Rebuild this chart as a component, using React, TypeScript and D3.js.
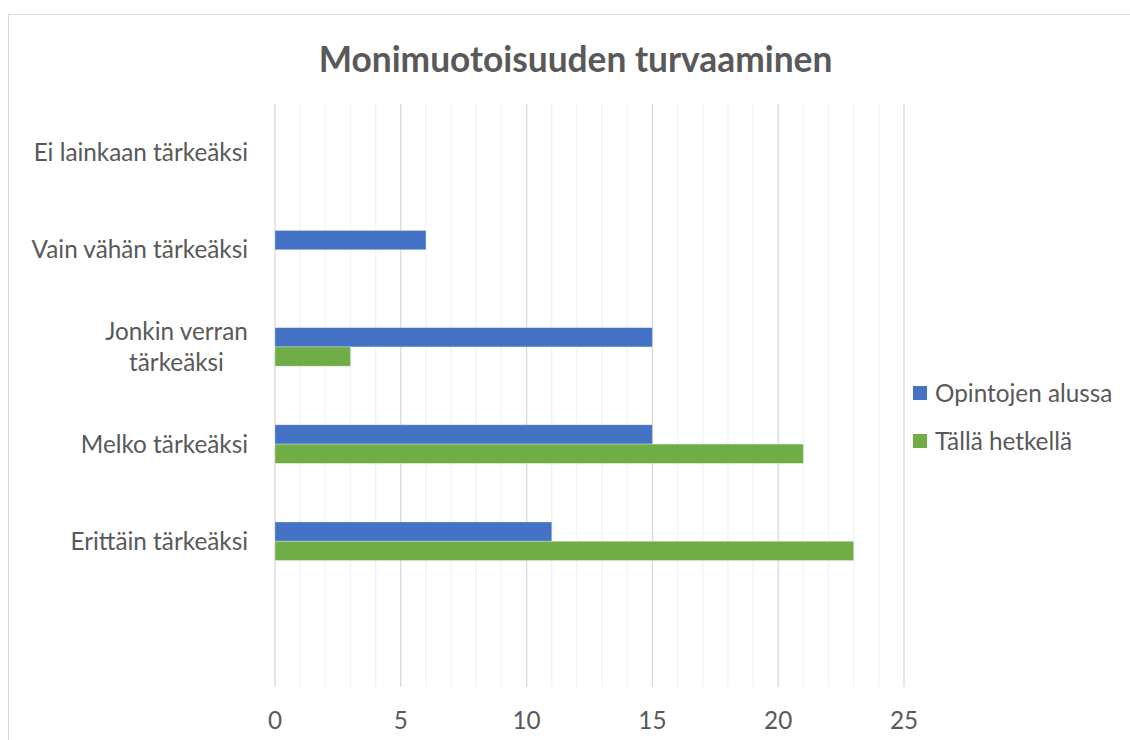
import React from 'react'
import * as d3 from 'd3'

const categories = ['Ei lainkaan tärkeäksi', 'Vain vähän tärkeäksi', 'Jonkin verran tärkeäksi', 'Melko tärkeäksi', 'Erittäin tärkeäksi', '']
const seriesNames = ['Opintojen alussa', 'Tällä hetkellä']
const alussa = [0, 6, 15, 15, 11, 0]
const hetkella = [0, 0, 3, 21, 23, 0]
const xTicks = [0, 5, 10, 15, 20, 25]
const colors = ['#4472C4', '#70AD47']

const W = 1130, H = 740
const FONT = 'Lato, Carlito, Calibri, sans-serif'
const TXT = '#595959'
const FS = 24.3

const Label = ({ x, y, text }) => {
    // Excel wraps the long label onto two centered lines
    if (text === 'Jonkin verran tärkeäksi') {
        return (
            <text x={176.5} y={y} textAnchor="middle" fill={TXT} style={{ fontSize: FS + 'px' }}>
                <tspan x={176.5} dy={-15.5 + 8.5}>Jonkin verran</tspan>
                <tspan x={176.5} dy={31}>tärkeäksi</tspan>
            </text>
        )
    }
    return <text x={x} y={y} dy={8.5} textAnchor="end" fill={TXT} style={{ fontSize: FS + 'px' }}>{text}</text>
}

export default function App() {
    const x = d3.scaleLinear().domain([0, 25]).range([275, 904])
    const y = d3.scaleBand().domain(categories).range([104, 687]).padding(0)
    const bw = y.bandwidth()
    const barH = bw / (2 + 3.04)
    const off = (bw - 2 * barH) / 2
    const minor = d3.range(0, 26).filter(d => d % 5 !== 0)
    const series = [alussa, hetkella]

    return (
        <svg width={W} height={H} style={{ position: 'absolute', left: 0, top: 0, background: '#fff' }} fontFamily={FONT}>
            <rect x={8.5} y={14.5} width={W + 10} height={H + 10} fill="#fff" stroke="#D9D9D9" />
            <text x={575.5} y={72} textAnchor="middle" fill={TXT} style={{ fontSize: '35.3px', fontWeight: 'bold' }}>
                Monimuotoisuuden turvaaminen
            </text>
            {minor.map(d => (
                <line key={'m' + d} x1={x(d)} x2={x(d)} y1={104} y2={687} stroke="#F2F2F2" strokeWidth={1.3} />
            ))}
            {xTicks.map(d => (
                <line key={'g' + d} x1={x(d)} x2={x(d)} y1={104} y2={687} stroke="#D9D9D9" strokeWidth={1.3} />
            ))}
            {categories.map((c, i) => (
                <g key={c + i}>
                    {series.map((s, j) => s[i] > 0 && (
                        <rect key={j} x={x(0)} y={(y(c) || 0) + off + j * barH} width={x(s[i]) - x(0)} height={barH}
                            fill={colors[j]} stroke="#fff" strokeOpacity={0.4} strokeWidth={0.75} />
                    ))}
                    {c && <Label x={248} y={(y(c) || 0) + bw / 2} text={c} />}
                </g>
            ))}
            {xTicks.map(d => (
                <text key={'t' + d} x={x(d)} y={729} textAnchor="middle" fill={TXT} style={{ fontSize: FS + 'px' }}>{d}</text>
            ))}
            {seriesNames.map((n, j) => (
                <g key={n} transform={`translate(913, ${386 + j * 48})`}>
                    <rect width={14} height={14} fill={colors[j]} />
                    <text x={22} y={7} dy={8.5} fill={TXT} style={{ fontSize: FS + 'px' }}>{n}</text>
                </g>
            ))}
        </svg>
    )
}
